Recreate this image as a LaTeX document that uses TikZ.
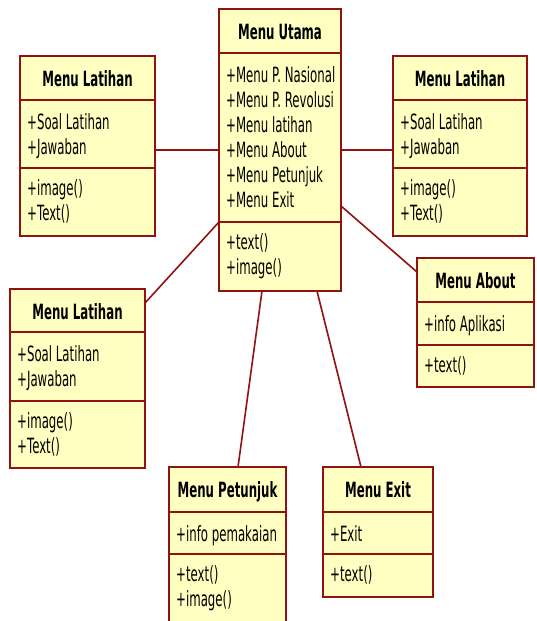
\documentclass[tikz,border=0pt]{standalone}
\usepackage{fontspec}
\newfontfamily\umlfont[FakeStretch=0.56]{DejaVu Sans}
\definecolor{bord}{RGB}{145,18,18}
\definecolor{fillc}{RGB}{255,255,194}
\tikzset{
  cls/.style={draw=bord, fill=fillc, line width=1.6pt, anchor=north west, inner sep=0pt, outer sep=0pt, rectangle},
  divline/.style={draw=bord, line width=1.6pt},
  hdr/.style={font=\umlfont\fontsize{21}{25}\selectfont\bfseries, anchor=base, inner sep=0pt},
  itm/.style={font=\umlfont\fontsize{21}{25}\selectfont, anchor=base west, inner sep=0pt},
  lnk/.style={draw=bord, line width=1.6pt}
}
% #1 name, #2 x,y (top left), #3 width, #4 height, #5 div1 offset, #6 div2 offset, #7 title, #8 attrs, #9 methods
\newcommand\umlclass[9]{%
  \node[cls, minimum width=#3pt, minimum height=#4pt] (#1) at (#2) {};
  \draw[divline] ([yshift=-#5pt]#1.north west) -- ([yshift=-#5pt]#1.north east);
  \draw[divline] ([yshift=-#6pt]#1.north west) -- ([yshift=-#6pt]#1.north east);
  \node[hdr] (#1-t) at ([yshift=-30pt]#1.north) {#7};
  \foreach \t [count=\i] in {#8} {
    \node[itm] (#1-a\i) at ([xshift=7pt, yshift={-(#5+29+25*(\i-1))}]#1.north west) {\t};
  }
  \foreach \t [count=\i] in {#9} {
    \node[itm] (#1-m\i) at ([xshift=7pt, yshift={-(#6+27+25*(\i-1))}]#1.north west) {\t};
  }
}
\begin{document}
\begin{tikzpicture}[x=1pt, y=-1pt]
\useasboundingbox (0,0) rectangle (536,621);
\clip (0,0) rectangle (536,621);
\fill[white] (0,0) rectangle (536,621);

\umlclass{utama}{219,9}{122}{282}{44}{213}{Menu Utama}%
  {+Menu P. Nasional,+Menu P. Revolusi,+Menu latihan,+Menu About,+Menu Petunjuk,+Menu Exit}%
  {+text(),+image()}
\umlclass{latL}{20,56}{135}{180}{44}{112}{Menu Latihan}%
  {+Soal Latihan,+Jawaban}{+image(),+Text()}
\umlclass{latR}{393,56}{134}{180}{44}{112}{Menu Latihan}%
  {+Soal Latihan,+Jawaban}{+image(),+Text()}
\umlclass{latBL}{10,289}{135}{179}{43}{112}{Menu Latihan}%
  {+Soal Latihan,+Jawaban}{+image(),+Text()}
\umlclass{about}{417,258}{117}{129}{44}{87}{Menu About}%
  {+info Aplikasi}{+text()}
\umlclass{pet}{169,467}{117}{175}{45}{87}{Menu Petunjuk}%
  {+info pemakaian}{+text(),+image()}
\umlclass{exit}{323,467}{110}{130}{45}{87}{Menu Exit}%
  {+Exit}{+text()}

\draw[lnk] ([yshift=-4pt]latL.east) -- ([yshift=-4pt]latL.east -| utama.west);
\draw[lnk] ([yshift=-4pt]latR.west) -- ([yshift=-4pt]latR.west -| utama.east);
\draw[lnk] ([yshift=69pt]utama.south west) -- ([yshift=-14pt]latBL.north east);
\draw[lnk] ([yshift=85pt]utama.south east) -- ([yshift=-14pt]about.north west);
\draw[lnk] ([xshift=43pt]utama.south west) -- ([xshift=69pt]pet.north west);
\draw[lnk] ([xshift=-24pt]utama.south east) -- ([xshift=38pt]exit.north west);
\end{tikzpicture}
\end{document}
